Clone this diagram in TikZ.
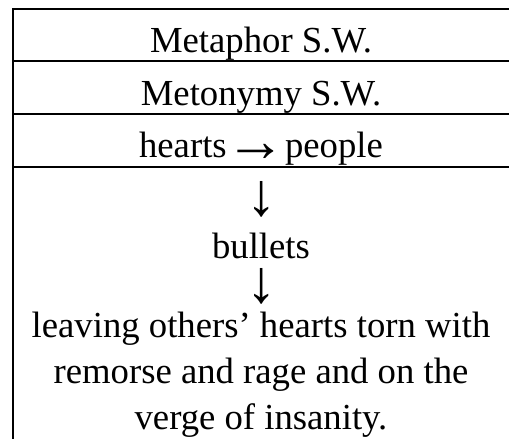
\documentclass[tikz,border=0pt]{standalone}
\usepackage{fontspec}
\setmainfont{Liberation Serif}
% enlarged arrow glyphs, keeping their thin strokes
\newcommand{\bigdown}{\scalebox{1.65}{↓}}
\newcommand{\bigright}{\makebox[40pt]{\raisebox{-4.5pt}{\scalebox{1.65}{→}}}}
\begin{document}
\begin{tikzpicture}[x=1pt,y=-1pt,
  rule/.style={line width=1.8pt},
  txt/.style={anchor=base, inner sep=0pt, font=\fontsize{36.7}{46}\selectfont},
  arr/.style={anchor=center, inner sep=0pt, font=\fontsize{36.7}{46}\selectfont}]
\useasboundingbox (0,0) rectangle (509,439);
% table frame: top rule and left edge, then row separators
\draw[rule] (511,9) -- (13,9) -- (13,441);
\draw[rule] (13,61) -- (511,61);
\draw[rule] (13,114) -- (511,114);
\draw[rule] (13,167) -- (511,167);
% row texts
\node[txt] (metaphor) at (261,52) {Metaphor S.W.};
\node[txt] (metonymy) at (261,105) {Metonymy S.W.};
\node[txt] (hearts) at (261,157) {hearts \bigright{} people};
\node[arr] (down1) at (262,199) {\bigdown};
\node[txt] (bullets) at (261,258) {bullets};
\node[arr] (down2) at (262,286) {\bigdown};
\node[txt] (line1) at (261,337) {leaving others’ hearts torn with};
\node[txt] (line2) at (261,383) {remorse and rage and on the};
\node[txt] (line3) at (261,429) {verge of insanity.};
\end{tikzpicture}
\end{document}
